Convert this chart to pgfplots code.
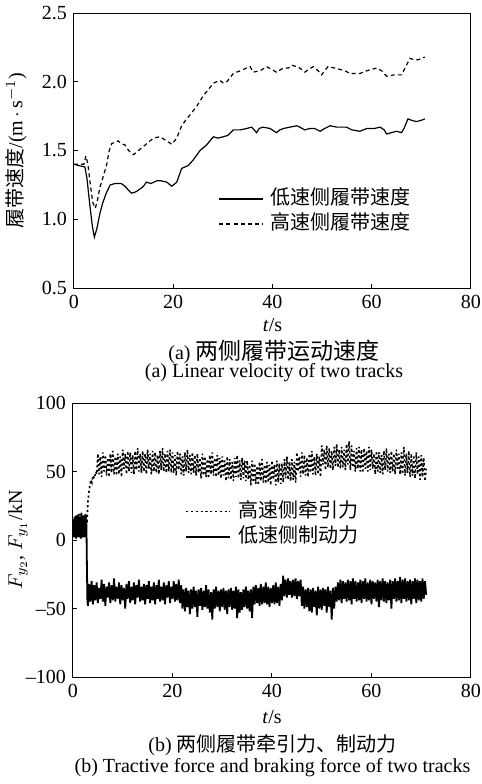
\documentclass[border=0pt]{standalone}
\usepackage{pgfplots}
\pgfplotsset{compat=1.18}
\usepackage{fontspec}
\setmainfont{Liberation Serif}
\newfontfamily\cjk{Noto Sans CJK SC}

\pgfplotsset{
  myaxis/.style={
    scale only axis,
    xmin=0, xmax=80,
    xtick={0,20,40,60,80},
    tick align=inside,
    tick pos=left,
    major tick length=2pt,
    axis line style={line width=0.5pt},
    every tick/.style={line width=0.5pt, black},
    /pgf/number format/assume math mode=true,
    tick label style={font=\fontsize{10}{12}\selectfont},
    legend cell align=left,
    legend style={draw=none, fill=none, inner sep=0pt, row sep=1.5pt,
      nodes={inner sep=0.5pt, text height=8pt, text depth=2pt},
      /tikz/every odd column/.style={column sep=3pt}},
    legend image code/.code={\draw[#1] (0pt,0pt) -- (22pt,0pt);},
  }
}

\begin{document}
\begin{tikzpicture}
\path[use as bounding box] (0pt,0pt) rectangle (241pt,-392pt);

% ---------- (a) ----------
\begin{axis}[myaxis,
  at={(37pt,-144pt)}, anchor=south west,
  width=198.5pt, height=137.5pt,
  ymin=0.5, ymax=2.5,
  ytick={0.5,1.0,1.5,2.0,2.5},
  yticklabel style={/pgf/number format/fixed, /pgf/number format/fixed zerofill, /pgf/number format/precision=1},
  xlabel={\textit{t}/s},
  xlabel style={at={(axis description cs:0.5,-0.1345)}, anchor=center},
  ylabel={{\cjk 履带速度}/(m\,$\cdot$\,s$^{-1}$)},
  ylabel style={at={(axis description cs:-0.146,0.5)}, anchor=center},
  legend style={at={(0.363,0.2785)}, anchor=west},
]
\addplot[black, line width=0.6pt] coordinates {
(0,1.40) (1,1.39) (2.2,1.38) (2.6,1.30) (3.2,1.10) (3.7,0.95) (4.1,0.87) (4.6,0.93)
(5.2,1.04) (5.8,1.12) (6.5,1.19) (7.3,1.25) (8.3,1.26) (9.5,1.26) (10.3,1.24) (11.0,1.21)
(11.6,1.19) (12.5,1.20) (13.3,1.22) (14.0,1.24) (14.6,1.27) (15.5,1.26) (16.7,1.28) (17.5,1.28)
(18.7,1.27) (19.7,1.24) (20.7,1.27) (21.7,1.37) (23.0,1.39) (24.0,1.43) (25.4,1.50) (26.7,1.54)
(28.1,1.60) (29.0,1.59) (30.1,1.60) (31.0,1.61) (32.1,1.65) (33.5,1.65) (34.8,1.66) (35.8,1.67)
(36.8,1.63) (37.3,1.66) (38.1,1.67) (39.5,1.66) (40.8,1.63) (41.5,1.65) (42.2,1.66) (43.5,1.67)
(44.9,1.68) (45.5,1.67) (46.5,1.65) (47.5,1.66) (48.5,1.66) (49.6,1.64) (50.5,1.66) (51.6,1.68)
(53.0,1.67) (54.9,1.67) (56.0,1.65) (57.6,1.64) (59.0,1.66) (60.5,1.66) (61.7,1.67) (62.5,1.65)
(63.0,1.62) (64.0,1.63) (65.0,1.64) (66.0,1.63) (66.5,1.66) (67.3,1.73) (68.0,1.72) (69.0,1.71)
(70.0,1.72) (70.7,1.73)
};
\addlegendentry{\cjk 低速侧履带速度}
\addplot[black, line width=0.6pt, dash pattern=on 2pt off 1.6pt] coordinates {
(0,1.40) (2.0,1.40) (2.4,1.46) (2.8,1.40) (3.3,1.25) (3.8,1.12) (4.3,1.08) (4.8,1.15)
(5.2,1.23) (5.8,1.30) (6.6,1.40) (7.1,1.50) (7.6,1.55) (8.9,1.57) (9.5,1.55) (10.3,1.54)
(11.0,1.50) (12.0,1.47) (13.0,1.50) (14.0,1.53) (15.0,1.56) (16.0,1.59) (17.3,1.60) (18.7,1.57)
(19.7,1.545) (20.7,1.59) (21.7,1.68) (22.5,1.72) (23.4,1.76) (24.7,1.82) (26.1,1.90) (27.0,1.94)
(28.1,1.99) (29.4,2.01) (30.1,1.99) (30.8,2.00) (32.1,2.06) (33.5,2.08) (34.8,2.10) (35.5,2.11)
(36.1,2.07) (37.5,2.08) (38.8,2.11) (39.8,2.09) (40.8,2.07) (42.2,2.10) (43.2,2.10) (43.9,2.12)
(44.9,2.11) (45.5,2.10) (46.5,2.07) (47.3,2.09) (48.2,2.11) (49.2,2.08) (49.9,2.05) (50.5,2.08)
(51.2,2.11) (52.5,2.10) (53.6,2.09) (54.6,2.08) (55.6,2.06) (57.6,2.06) (59.0,2.08) (60.0,2.09)
(61.0,2.10) (62.0,2.08) (63.0,2.04) (64.5,2.05) (66.0,2.05) (66.7,2.10) (67.7,2.17) (68.5,2.16)
(69.4,2.16) (70.7,2.18)
};
\addlegendentry{\cjk 高速侧履带速度}
\end{axis}

% ---------- (b) ----------
\begin{axis}[myaxis,
  at={(36.5pt,-338.5pt)}, anchor=south west,
  width=199pt, height=137pt,
  ymin=-100, ymax=100,
  ytick={-100,-50,0,50,100},
  yticklabels={--100,--50,0,50,100},
  xlabel={\textit{t}/s},
  xlabel style={at={(axis description cs:0.5,-0.145)}, anchor=center},
  ylabel={$F_{y_2}$, $F_{y_1}$/kN},
  ylabel style={at={(axis description cs:-0.138,0.5)}, anchor=center},
  legend style={at={(0.281,0.558)}, anchor=west},
]
\addplot[black, line width=0.8pt, dash pattern=on 1.1pt off 1.3pt] coordinates {
(0,3) (0.2,16) (0.4,5) (0.6,18) (0.8,2) (1.0,15) (1.2,6) (1.4,19) (1.6,3) (1.8,17) (2.0,5)
(2.2,16) (2.4,2) (2.6,18) (2.8,12) (3.0,28) (3.2,35) (3.4,40) (3.6,44) (3.8,42) (4.0,47)
(4.3,45) (4.6,50) (4.8,48)
(5.00,63) (5.25,48) (5.50,61) (5.75,46) (6.00,64) (6.25,50) (6.50,62) (6.75,47) (7.00,60) (7.25,46)
(7.50,63) (7.75,49) (8.00,65) (8.25,48) (8.50,61) (8.75,47) (9.00,63) (9.25,48) (9.50,61) (9.75,46)
(10.00,66) (10.25,52) (10.50,63) (10.75,48) (11.00,65) (11.25,50) (11.50,64) (11.75,49) (12.00,62) (12.25,48)
(12.50,65) (12.75,51) (13.00,67) (13.25,50) (13.50,63) (13.75,49) (14.00,65) (14.25,50) (14.50,63) (14.75,48)
(15.00,66) (15.25,52) (15.50,63) (15.75,48) (16.00,65) (16.25,50) (16.50,64) (16.75,49) (17.00,62) (17.25,48)
(17.50,65) (17.75,51) (18.00,67) (18.25,50) (18.50,63) (18.75,49) (19.00,65) (19.25,50) (19.50,66) (19.75,49)
(20.00,64) (20.25,49) (20.50,62) (20.75,47) (21.00,65) (21.25,51) (21.50,63) (21.75,48) (22.00,61) (22.25,47)
(22.50,64) (22.75,50) (23.00,66) (23.25,49) (23.50,62) (23.75,48) (24.00,64) (24.25,49) (24.50,62) (24.75,47)
(25.00,63) (25.25,49) (25.50,60) (25.75,45) (26.00,63) (26.25,47) (26.50,61) (26.75,46) (27.00,59) (27.25,45)
(27.50,62) (27.75,48) (28.00,64) (28.25,47) (28.50,60) (28.75,46) (29.00,62) (29.25,47) (29.50,60) (29.75,45)
(30.00,61) (30.25,47) (30.50,58) (30.75,43) (31.00,61) (31.25,45) (31.50,59) (31.75,44) (32.00,57) (32.25,43)
(32.50,60) (32.75,46) (33.00,62) (33.25,45) (33.50,58) (33.75,44) (34.00,60) (34.25,45) (34.50,58) (34.75,43)
(35.00,58) (35.25,44) (35.50,55) (35.75,40) (36.00,58) (36.25,42) (36.50,56) (36.75,41) (37.00,54) (37.25,40)
(37.50,57) (37.75,43) (38.00,59) (38.25,42) (38.50,55) (38.75,41) (39.00,57) (39.25,42) (39.50,55) (39.75,40)
(40.00,58) (40.25,44) (40.50,55) (40.75,40) (41.00,58) (41.25,42) (41.50,56) (41.75,41)
(42.00,56) (42.25,42) (42.50,59) (42.75,45) (43.00,61) (43.25,44) (43.50,57) (43.75,43) (44.00,59) (44.25,44)
(44.50,57) (44.75,42)
(45.00,64) (45.25,50) (45.50,61) (45.75,46) (46.00,64) (46.25,48) (46.50,62) (46.75,47) (47.00,60) (47.25,46)
(47.50,63) (47.75,49) (48.00,65) (48.25,48) (48.50,61) (48.75,47) (49.00,63) (49.25,48) (49.50,61) (49.75,46)
(50.00,69) (50.25,55) (50.50,66) (50.75,51) (51.00,69) (51.25,53) (51.50,67) (51.75,52) (52.00,65) (52.25,51)
(52.50,68) (52.75,54) (53.00,70) (53.25,53) (53.50,66) (53.75,52) (54.00,68) (54.25,53) (54.50,66) (54.75,51)
(55.00,70) (55.25,55) (55.50,72) (55.75,51) (56.00,69) (56.25,53)
(56.50,65) (56.75,50) (57.00,67) (57.25,52) (57.50,68) (57.75,50) (58.00,66) (58.25,49) (58.50,67) (58.75,52)
(59.00,65) (59.25,50) (59.50,68) (59.75,51)
(60.00,66) (60.25,52) (60.50,63) (60.75,48) (61.00,65) (61.25,50) (61.50,64) (61.75,49) (62.00,62) (62.25,48)
(62.50,65) (62.75,51) (63.00,67) (63.25,50) (63.50,63) (63.75,49) (64.00,65) (64.25,50) (64.50,63) (64.75,48)
(65.00,66) (65.25,52) (65.50,63) (65.75,48)
(66.00,64) (66.25,48) (66.50,68) (66.75,47) (67.00,63) (67.25,49) (67.50,65) (67.75,46) (68.00,63) (68.25,47)
(68.50,62) (68.75,45) (69.00,64) (69.25,48) (69.50,61) (69.75,44) (70.00,62) (70.25,46) (70.50,60) (70.75,43)
(71.00,52)
};
\addlegendentry{\cjk 高速侧牵引力}
\addplot[black, line width=0.9pt] coordinates {
(0,5) (0.1,15) (0.2,2) (0.3,17) (0.4,4) (0.5,14) (0.6,1) (0.7,18) (0.8,3) (0.9,16) (1.0,6)
(1.1,19) (1.2,2) (1.3,15) (1.4,5) (1.5,17) (1.6,1) (1.7,20) (1.8,4) (1.9,14) (2.0,2) (2.1,18)
(2.2,6) (2.3,16) (2.4,3) (2.5,19) (2.6,5) (2.7,12) (2.8,-20) (2.9,-45) (3.0,-48)
(3.25,-32) (3.50,-45) (3.75,-30) (4.00,-47) (4.25,-33) (4.50,-44) (4.75,-31) (5.00,-46) (5.25,-35) (5.50,-43)
(5.75,-29) (6.00,-45) (6.25,-32) (6.50,-48) (6.75,-34) (7.00,-42) (7.25,-31) (7.50,-46) (7.75,-33) (8.00,-44)
(8.25,-28) (8.50,-45) (8.75,-34) (9.00,-43) (9.25,-31) (9.50,-47) (9.75,-33) (10.00,-44) (10.25,-35) (10.50,-50)
(10.75,-32) (11.00,-43) (11.25,-30) (11.50,-46) (11.75,-34) (12.00,-44) (12.25,-31) (12.50,-47) (12.75,-33) (13.00,-42)
(13.25,-29) (13.50,-45) (13.75,-34) (14.00,-44) (14.25,-32) (14.50,-47) (14.75,-33) (15.00,-43) (15.25,-30) (15.50,-46)
(15.75,-34) (16.00,-44) (16.25,-31) (16.50,-47) (16.75,-33) (17.00,-43) (17.25,-29) (17.50,-45) (17.75,-34) (18.00,-44)
(18.25,-31) (18.50,-47) (18.75,-33) (19.00,-42) (19.25,-30) (19.50,-46) (19.75,-34)
(20.00,-43) (20.25,-30) (20.50,-45) (20.75,-32) (21.00,-44) (21.25,-29) (21.50,-46) (21.75,-33)
(22.00,-50) (22.25,-36) (22.50,-52) (22.75,-35) (23.00,-49) (23.25,-37) (23.50,-54) (23.75,-36) (24.00,-50) (24.25,-34)
(24.50,-49) (24.75,-37) (25.00,-56) (25.25,-36) (25.50,-48) (25.75,-35) (26.00,-51) (26.25,-37) (26.50,-49) (26.75,-33)
(27.00,-50) (27.25,-36) (27.50,-53) (27.75,-38) (28.00,-58) (28.25,-36) (28.50,-50) (28.75,-34) (29.00,-49) (29.25,-37)
(29.50,-52) (29.75,-36) (30.00,-49) (30.25,-35) (30.50,-51) (30.75,-37) (31.00,-54) (31.25,-36) (31.50,-49) (31.75,-35)
(32.00,-51) (32.25,-37) (32.50,-50) (32.75,-34) (33.00,-57) (33.25,-36) (33.50,-53) (33.75,-38) (34.00,-51) (34.25,-36)
(34.50,-49) (34.75,-34) (35.00,-50) (35.25,-37) (35.50,-52) (35.75,-36)
(36.00,-57) (36.25,-34) (36.50,-47) (36.75,-33) (37.00,-46) (37.25,-35) (37.50,-48) (37.75,-32) (38.00,-47) (38.25,-34)
(38.50,-46) (38.75,-31) (39.00,-47) (39.25,-34) (39.50,-49) (39.75,-35) (40.00,-46) (40.25,-33) (40.50,-47) (40.75,-31)
(41.00,-46) (41.25,-34) (41.50,-48) (41.75,-32)
(42.00,-44) (42.25,-26) (42.50,-41) (42.75,-29) (43.00,-42) (43.25,-28) (43.50,-40) (43.75,-30) (44.00,-42) (44.25,-29)
(44.50,-41) (44.75,-28) (45.00,-43) (45.25,-30) (45.50,-41) (45.75,-29)
(46.00,-48) (46.25,-34) (46.50,-50) (46.75,-36) (47.00,-49) (47.25,-35) (47.50,-52) (47.75,-36) (48.00,-53) (48.25,-35)
(48.50,-49) (48.75,-37) (49.00,-55) (49.25,-34) (49.50,-50) (49.75,-36) (50.00,-51) (50.25,-35) (50.50,-48) (50.75,-36)
(51.00,-53) (51.25,-34) (51.50,-49) (51.75,-37) (52.00,-58) (52.25,-35) (52.50,-50) (52.75,-34)
(53.00,-45) (53.25,-31) (53.50,-44) (53.75,-29) (54.00,-46) (54.25,-30) (54.50,-43) (54.75,-31) (55.00,-45) (55.25,-29)
(55.50,-44) (55.75,-30) (56.00,-47) (56.25,-28) (56.50,-43) (56.75,-30) (57.00,-45) (57.25,-31) (57.50,-44) (57.75,-29)
(58.00,-46) (58.25,-30) (58.50,-43) (58.75,-28) (59.00,-45) (59.25,-31) (59.50,-44) (59.75,-29) (60.00,-47) (60.25,-30)
(60.50,-43) (60.75,-31) (61.00,-45) (61.25,-29) (61.50,-49) (61.75,-30) (62.00,-44) (62.25,-28) (62.50,-45) (62.75,-30)
(63.00,-46) (63.25,-31) (63.50,-44) (63.75,-29) (64.00,-50) (64.25,-30) (64.50,-43) (64.75,-28) (65.00,-45) (65.25,-30)
(65.50,-44) (65.75,-27) (66.00,-46) (66.25,-29) (66.50,-43) (66.75,-28) (67.00,-45) (67.25,-30) (67.50,-44) (67.75,-29)
(68.00,-47) (68.25,-30) (68.50,-43) (68.75,-28) (69.00,-46) (69.25,-29) (69.50,-44) (69.75,-30) (70.00,-45) (70.25,-28)
(70.50,-43) (70.75,-30) (71.00,-40)
};
\addlegendentry{\cjk 低速侧制动力}
\end{axis}

% captions
\node[anchor=center] at (137pt,-176pt) {(a) {\cjk\fontsize{11.5}{13}\selectfont 两侧履带运动速度}};
\node[anchor=center] at (137pt,-186.5pt) {(a) Linear velocity of two tracks};
\node[anchor=center] at (136.25pt,-372.5pt) {(b) {\cjk 两侧履带牵引力、制动力}};
\node[anchor=center] at (136.25pt,-384pt) {(b) Tractive force and braking force of two tracks};
\end{tikzpicture}
\end{document}
